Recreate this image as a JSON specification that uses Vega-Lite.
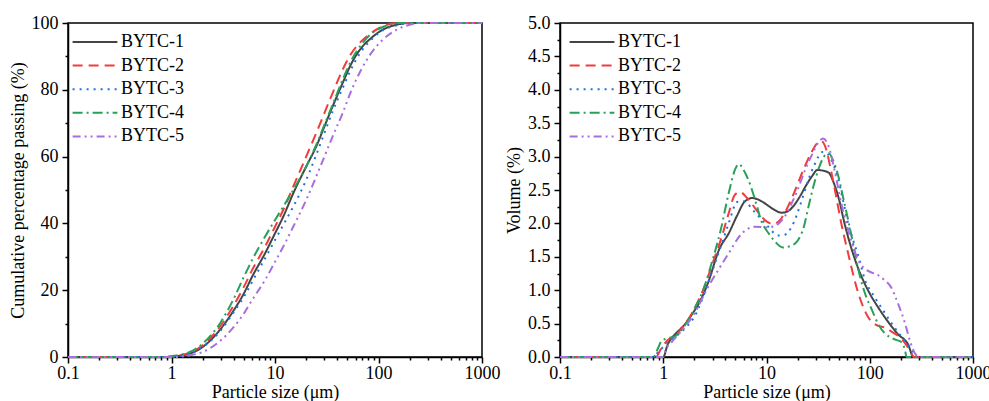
{
 "$schema": "https://vega.github.io/schema/vega-lite/v6.json",
 "padding": {"left": 8, "top": 13, "right": 18, "bottom": 5},
 "config": {
   "font": "Liberation Serif",
   "view": {"stroke": "black", "strokeWidth": 1.5},
   "axis": {"labelFont": "Liberation Serif", "titleFont": "Liberation Serif", "labelFontSize": 18, "titleFontSize": 18, "titleFontWeight": "normal", "labelColor": "black", "titleColor": "black", "domainColor": "black", "domainWidth": 1.5, "tickColor": "black", "tickWidth": 1.5, "grid": false, "labelOverlap": false, "labelFlush": false},
   "legend": {"orient": "none", "labelFont": "Liberation Serif", "labelFontSize": 18, "labelColor": "black", "symbolType": "M-2.8,0H2.8", "symbolSize": 256, "symbolStrokeWidth": 2, "rowPadding": 5.6, "labelOffset": 17, "padding": 0}
 },
 "datasets": {
  "cum": [
   {"s":"BYTC-1","d":0.1,"v":0},{"s":"BYTC-1","d":0.5,"v":0},{"s":"BYTC-1","d":1.0,"v":0},{"s":"BYTC-1","d":1.1,"v":0.2},{"s":"BYTC-1","d":1.5,"v":1},{"s":"BYTC-1","d":2,"v":3},{"s":"BYTC-1","d":3,"v":8.5},{"s":"BYTC-1","d":4,"v":14},{"s":"BYTC-1","d":5,"v":19},{"s":"BYTC-1","d":6,"v":24},{"s":"BYTC-1","d":8,"v":31},{"s":"BYTC-1","d":10,"v":37},{"s":"BYTC-1","d":12,"v":42},{"s":"BYTC-1","d":15,"v":49},{"s":"BYTC-1","d":20,"v":57},{"s":"BYTC-1","d":25,"v":63},{"s":"BYTC-1","d":30,"v":69},{"s":"BYTC-1","d":36,"v":75},{"s":"BYTC-1","d":45,"v":82},{"s":"BYTC-1","d":55,"v":88},{"s":"BYTC-1","d":68,"v":92.5},{"s":"BYTC-1","d":85,"v":95.5},{"s":"BYTC-1","d":110,"v":98},{"s":"BYTC-1","d":150,"v":99.5},{"s":"BYTC-1","d":200,"v":100},{"s":"BYTC-1","d":1000,"v":100},
   {"s":"BYTC-2","d":0.1,"v":0},{"s":"BYTC-2","d":0.9,"v":0},{"s":"BYTC-2","d":1.0,"v":0.1},{"s":"BYTC-2","d":1.2,"v":0.5},{"s":"BYTC-2","d":1.5,"v":1.3},{"s":"BYTC-2","d":2,"v":3.5},{"s":"BYTC-2","d":3,"v":9.5},{"s":"BYTC-2","d":4,"v":15.5},{"s":"BYTC-2","d":5,"v":21},{"s":"BYTC-2","d":6,"v":26},{"s":"BYTC-2","d":8,"v":33},{"s":"BYTC-2","d":10,"v":39},{"s":"BYTC-2","d":12,"v":44},{"s":"BYTC-2","d":15,"v":51},{"s":"BYTC-2","d":20,"v":60},{"s":"BYTC-2","d":25,"v":67},{"s":"BYTC-2","d":30,"v":73},{"s":"BYTC-2","d":36,"v":79},{"s":"BYTC-2","d":45,"v":86},{"s":"BYTC-2","d":55,"v":91},{"s":"BYTC-2","d":68,"v":94.5},{"s":"BYTC-2","d":85,"v":97},{"s":"BYTC-2","d":110,"v":99},{"s":"BYTC-2","d":150,"v":100},{"s":"BYTC-2","d":1000,"v":100},
   {"s":"BYTC-3","d":0.1,"v":0},{"s":"BYTC-3","d":0.9,"v":0},{"s":"BYTC-3","d":1.0,"v":0.05},{"s":"BYTC-3","d":1.2,"v":0.3},{"s":"BYTC-3","d":1.5,"v":1},{"s":"BYTC-3","d":2,"v":3},{"s":"BYTC-3","d":3,"v":8},{"s":"BYTC-3","d":4,"v":13.5},{"s":"BYTC-3","d":5,"v":18},{"s":"BYTC-3","d":6,"v":22.5},{"s":"BYTC-3","d":8,"v":29.5},{"s":"BYTC-3","d":10,"v":35},{"s":"BYTC-3","d":12,"v":39.5},{"s":"BYTC-3","d":15,"v":45},{"s":"BYTC-3","d":20,"v":53},{"s":"BYTC-3","d":25,"v":60.5},{"s":"BYTC-3","d":30,"v":67},{"s":"BYTC-3","d":36,"v":73.5},{"s":"BYTC-3","d":45,"v":80.5},{"s":"BYTC-3","d":55,"v":86.5},{"s":"BYTC-3","d":68,"v":91.5},{"s":"BYTC-3","d":85,"v":95},{"s":"BYTC-3","d":110,"v":97.8},{"s":"BYTC-3","d":150,"v":99.3},{"s":"BYTC-3","d":200,"v":100},{"s":"BYTC-3","d":1000,"v":100},
   {"s":"BYTC-4","d":0.1,"v":0},{"s":"BYTC-4","d":0.8,"v":0},{"s":"BYTC-4","d":1.0,"v":0.3},{"s":"BYTC-4","d":1.5,"v":1.5},{"s":"BYTC-4","d":2,"v":4},{"s":"BYTC-4","d":3,"v":10.5},{"s":"BYTC-4","d":4,"v":17.5},{"s":"BYTC-4","d":5,"v":24},{"s":"BYTC-4","d":6,"v":29},{"s":"BYTC-4","d":8,"v":36},{"s":"BYTC-4","d":10,"v":41},{"s":"BYTC-4","d":12,"v":45},{"s":"BYTC-4","d":15,"v":50},{"s":"BYTC-4","d":20,"v":57},{"s":"BYTC-4","d":25,"v":63.5},{"s":"BYTC-4","d":30,"v":69.5},{"s":"BYTC-4","d":36,"v":75.5},{"s":"BYTC-4","d":45,"v":83},{"s":"BYTC-4","d":55,"v":89},{"s":"BYTC-4","d":68,"v":93.5},{"s":"BYTC-4","d":85,"v":96.8},{"s":"BYTC-4","d":110,"v":98.8},{"s":"BYTC-4","d":150,"v":100},{"s":"BYTC-4","d":1000,"v":100},
   {"s":"BYTC-5","d":0.1,"v":0},{"s":"BYTC-5","d":1.1,"v":0},{"s":"BYTC-5","d":1.3,"v":0.2},{"s":"BYTC-5","d":1.5,"v":0.5},{"s":"BYTC-5","d":2,"v":1.5},{"s":"BYTC-5","d":3,"v":5},{"s":"BYTC-5","d":4,"v":9},{"s":"BYTC-5","d":5,"v":13},{"s":"BYTC-5","d":6,"v":17},{"s":"BYTC-5","d":8,"v":23},{"s":"BYTC-5","d":10,"v":28.5},{"s":"BYTC-5","d":12,"v":33},{"s":"BYTC-5","d":15,"v":39},{"s":"BYTC-5","d":20,"v":47},{"s":"BYTC-5","d":25,"v":54},{"s":"BYTC-5","d":30,"v":60},{"s":"BYTC-5","d":36,"v":66},{"s":"BYTC-5","d":45,"v":73},{"s":"BYTC-5","d":55,"v":80},{"s":"BYTC-5","d":68,"v":86},{"s":"BYTC-5","d":85,"v":91},{"s":"BYTC-5","d":110,"v":95},{"s":"BYTC-5","d":150,"v":98},{"s":"BYTC-5","d":200,"v":99.5},{"s":"BYTC-5","d":250,"v":100},{"s":"BYTC-5","d":1000,"v":100}
  ],
  "vol": [
   {"s":"BYTC-1","d":0.1,"v":0},{"s":"BYTC-1","d":1.0,"v":0},{"s":"BYTC-1","d":1.1,"v":0.18},{"s":"BYTC-1","d":1.2,"v":0.28},{"s":"BYTC-1","d":1.3,"v":0.34},{"s":"BYTC-1","d":1.6,"v":0.48},{"s":"BYTC-1","d":1.9,"v":0.64},{"s":"BYTC-1","d":2.3,"v":0.85},{"s":"BYTC-1","d":2.7,"v":1.1},{"s":"BYTC-1","d":3.5,"v":1.62},{"s":"BYTC-1","d":4.3,"v":1.85},{"s":"BYTC-1","d":5.2,"v":2.12},{"s":"BYTC-1","d":6.1,"v":2.32},{"s":"BYTC-1","d":7.3,"v":2.38},{"s":"BYTC-1","d":9,"v":2.33},{"s":"BYTC-1","d":10.5,"v":2.26},{"s":"BYTC-1","d":12,"v":2.2},{"s":"BYTC-1","d":14,"v":2.16},{"s":"BYTC-1","d":16,"v":2.18},{"s":"BYTC-1","d":18,"v":2.25},{"s":"BYTC-1","d":21,"v":2.4},{"s":"BYTC-1","d":24,"v":2.56},{"s":"BYTC-1","d":28,"v":2.72},{"s":"BYTC-1","d":31,"v":2.8},{"s":"BYTC-1","d":35,"v":2.79},{"s":"BYTC-1","d":40,"v":2.76},{"s":"BYTC-1","d":45,"v":2.6},{"s":"BYTC-1","d":50,"v":2.38},{"s":"BYTC-1","d":57,"v":2.0},{"s":"BYTC-1","d":66,"v":1.64},{"s":"BYTC-1","d":75,"v":1.38},{"s":"BYTC-1","d":84,"v":1.19},{"s":"BYTC-1","d":100,"v":0.95},{"s":"BYTC-1","d":121,"v":0.74},{"s":"BYTC-1","d":150,"v":0.53},{"s":"BYTC-1","d":188,"v":0.34},{"s":"BYTC-1","d":235,"v":0.19},{"s":"BYTC-1","d":265,"v":0},{"s":"BYTC-1","d":1000,"v":0},
   {"s":"BYTC-2","d":0.1,"v":0},{"s":"BYTC-2","d":0.85,"v":0},{"s":"BYTC-2","d":0.95,"v":0.12},{"s":"BYTC-2","d":1.1,"v":0.25},{"s":"BYTC-2","d":1.3,"v":0.32},{"s":"BYTC-2","d":1.6,"v":0.48},{"s":"BYTC-2","d":2.0,"v":0.72},{"s":"BYTC-2","d":2.5,"v":1.05},{"s":"BYTC-2","d":3,"v":1.4},{"s":"BYTC-2","d":3.6,"v":1.75},{"s":"BYTC-2","d":4.3,"v":2.15},{"s":"BYTC-2","d":4.9,"v":2.42},{"s":"BYTC-2","d":5.5,"v":2.47},{"s":"BYTC-2","d":6.5,"v":2.38},{"s":"BYTC-2","d":8,"v":2.2},{"s":"BYTC-2","d":10,"v":2.03},{"s":"BYTC-2","d":11.6,"v":1.99},{"s":"BYTC-2","d":13.5,"v":2.05},{"s":"BYTC-2","d":16,"v":2.24},{"s":"BYTC-2","d":19,"v":2.5},{"s":"BYTC-2","d":22.6,"v":2.79},{"s":"BYTC-2","d":27,"v":3.05},{"s":"BYTC-2","d":31,"v":3.2},{"s":"BYTC-2","d":34,"v":3.23},{"s":"BYTC-2","d":38,"v":3.1},{"s":"BYTC-2","d":42,"v":2.8},{"s":"BYTC-2","d":46,"v":2.5},{"s":"BYTC-2","d":53,"v":2.0},{"s":"BYTC-2","d":62,"v":1.54},{"s":"BYTC-2","d":70,"v":1.2},{"s":"BYTC-2","d":78,"v":0.94},{"s":"BYTC-2","d":88,"v":0.72},{"s":"BYTC-2","d":97,"v":0.59},{"s":"BYTC-2","d":115,"v":0.48},{"s":"BYTC-2","d":139,"v":0.44},{"s":"BYTC-2","d":170,"v":0.36},{"s":"BYTC-2","d":204,"v":0.27},{"s":"BYTC-2","d":240,"v":0.12},{"s":"BYTC-2","d":270,"v":0},{"s":"BYTC-2","d":1000,"v":0},
   {"s":"BYTC-3","d":0.1,"v":0},{"s":"BYTC-3","d":0.8,"v":0},{"s":"BYTC-3","d":0.9,"v":0.08},{"s":"BYTC-3","d":1.0,"v":0.15},{"s":"BYTC-3","d":1.2,"v":0.26},{"s":"BYTC-3","d":1.4,"v":0.34},{"s":"BYTC-3","d":1.7,"v":0.46},{"s":"BYTC-3","d":2.0,"v":0.6},{"s":"BYTC-3","d":2.5,"v":0.95},{"s":"BYTC-3","d":3,"v":1.3},{"s":"BYTC-3","d":3.6,"v":1.65},{"s":"BYTC-3","d":4.3,"v":2.0},{"s":"BYTC-3","d":5.2,"v":2.32},{"s":"BYTC-3","d":6,"v":2.33},{"s":"BYTC-3","d":7.7,"v":2.17},{"s":"BYTC-3","d":10,"v":1.98},{"s":"BYTC-3","d":13,"v":1.82},{"s":"BYTC-3","d":15,"v":1.83},{"s":"BYTC-3","d":17.4,"v":1.94},{"s":"BYTC-3","d":21.9,"v":2.34},{"s":"BYTC-3","d":25,"v":2.62},{"s":"BYTC-3","d":29,"v":2.87},{"s":"BYTC-3","d":35,"v":3.07},{"s":"BYTC-3","d":39,"v":3.04},{"s":"BYTC-3","d":44,"v":2.9},{"s":"BYTC-3","d":49,"v":2.69},{"s":"BYTC-3","d":55,"v":2.35},{"s":"BYTC-3","d":62,"v":1.99},{"s":"BYTC-3","d":70,"v":1.72},{"s":"BYTC-3","d":78,"v":1.5},{"s":"BYTC-3","d":90,"v":1.15},{"s":"BYTC-3","d":106,"v":0.95},{"s":"BYTC-3","d":132,"v":0.72},{"s":"BYTC-3","d":160,"v":0.52},{"s":"BYTC-3","d":190,"v":0.36},{"s":"BYTC-3","d":225,"v":0.22},{"s":"BYTC-3","d":260,"v":0.08},{"s":"BYTC-3","d":285,"v":0},{"s":"BYTC-3","d":1000,"v":0},
   {"s":"BYTC-4","d":0.1,"v":0},{"s":"BYTC-4","d":0.8,"v":0},{"s":"BYTC-4","d":0.9,"v":0.15},{"s":"BYTC-4","d":0.96,"v":0.24},{"s":"BYTC-4","d":1.1,"v":0.28},{"s":"BYTC-4","d":1.3,"v":0.31},{"s":"BYTC-4","d":1.6,"v":0.46},{"s":"BYTC-4","d":2,"v":0.72},{"s":"BYTC-4","d":2.5,"v":1.05},{"s":"BYTC-4","d":3,"v":1.45},{"s":"BYTC-4","d":3.6,"v":1.9},{"s":"BYTC-4","d":4.3,"v":2.45},{"s":"BYTC-4","d":5,"v":2.82},{"s":"BYTC-4","d":5.4,"v":2.89},{"s":"BYTC-4","d":6,"v":2.8},{"s":"BYTC-4","d":7.1,"v":2.54},{"s":"BYTC-4","d":8,"v":2.28},{"s":"BYTC-4","d":8.9,"v":2.04},{"s":"BYTC-4","d":10.5,"v":1.85},{"s":"BYTC-4","d":11.9,"v":1.74},{"s":"BYTC-4","d":14.4,"v":1.64},{"s":"BYTC-4","d":17,"v":1.66},{"s":"BYTC-4","d":20,"v":1.74},{"s":"BYTC-4","d":23,"v":1.95},{"s":"BYTC-4","d":25.4,"v":2.24},{"s":"BYTC-4","d":29,"v":2.6},{"s":"BYTC-4","d":32,"v":2.82},{"s":"BYTC-4","d":36,"v":3.0},{"s":"BYTC-4","d":40,"v":3.05},{"s":"BYTC-4","d":44,"v":2.95},{"s":"BYTC-4","d":49,"v":2.74},{"s":"BYTC-4","d":55,"v":2.4},{"s":"BYTC-4","d":62,"v":2.04},{"s":"BYTC-4","d":70,"v":1.65},{"s":"BYTC-4","d":78,"v":1.29},{"s":"BYTC-4","d":90,"v":0.95},{"s":"BYTC-4","d":106,"v":0.69},{"s":"BYTC-4","d":120,"v":0.5},{"s":"BYTC-4","d":139,"v":0.36},{"s":"BYTC-4","d":170,"v":0.27},{"s":"BYTC-4","d":204,"v":0.22},{"s":"BYTC-4","d":218,"v":0.12},{"s":"BYTC-4","d":228,"v":0},{"s":"BYTC-4","d":1000,"v":0},
   {"s":"BYTC-5","d":0.1,"v":0},{"s":"BYTC-5","d":1.0,"v":0},{"s":"BYTC-5","d":1.05,"v":0.1},{"s":"BYTC-5","d":1.2,"v":0.22},{"s":"BYTC-5","d":1.6,"v":0.44},{"s":"BYTC-5","d":2,"v":0.65},{"s":"BYTC-5","d":2.7,"v":1.04},{"s":"BYTC-5","d":3.4,"v":1.3},{"s":"BYTC-5","d":4.25,"v":1.54},{"s":"BYTC-5","d":5.7,"v":1.84},{"s":"BYTC-5","d":7.7,"v":1.95},{"s":"BYTC-5","d":10.3,"v":1.94},{"s":"BYTC-5","d":12.9,"v":1.99},{"s":"BYTC-5","d":15,"v":2.1},{"s":"BYTC-5","d":17.4,"v":2.29},{"s":"BYTC-5","d":20,"v":2.5},{"s":"BYTC-5","d":23.5,"v":2.79},{"s":"BYTC-5","d":28,"v":3.05},{"s":"BYTC-5","d":32,"v":3.22},{"s":"BYTC-5","d":35.5,"v":3.27},{"s":"BYTC-5","d":40,"v":3.15},{"s":"BYTC-5","d":45.7,"v":2.79},{"s":"BYTC-5","d":53,"v":2.3},{"s":"BYTC-5","d":62,"v":1.89},{"s":"BYTC-5","d":70,"v":1.62},{"s":"BYTC-5","d":78,"v":1.44},{"s":"BYTC-5","d":90,"v":1.32},{"s":"BYTC-5","d":106,"v":1.26},{"s":"BYTC-5","d":122,"v":1.22},{"s":"BYTC-5","d":139,"v":1.15},{"s":"BYTC-5","d":160,"v":1.05},{"s":"BYTC-5","d":188,"v":0.8},{"s":"BYTC-5","d":220,"v":0.5},{"s":"BYTC-5","d":250,"v":0.2},{"s":"BYTC-5","d":275,"v":0.05},{"s":"BYTC-5","d":300,"v":0},{"s":"BYTC-5","d":1000,"v":0}
  ]
 },
 "spacing": 78,
 "bounds": "flush",
 "resolve": {"scale": {"color": "independent", "strokeDash": "independent"}, "legend": {"color": "independent", "strokeDash": "independent"}},
 "hconcat": [
  {
   "width": 414, "height": 334,
   "data": {"name": "cum"},
   "mark": {"type": "line", "strokeWidth": 2, "interpolate": "monotone"},
   "encoding": {
    "x": {"field": "d", "type": "quantitative", "scale": {"type": "log", "domain": [0.1, 1000], "nice": false},
      "axis": {"title": "Particle size (μm)", "labelFont": "Liberation Serif", "titleFont": "Liberation Serif", "values": [0.1,0.2,0.3,0.4,0.5,0.6,0.7,0.8,0.9,1,2,3,4,5,6,7,8,9,10,20,30,40,50,60,70,80,90,100,200,300,400,500,600,700,800,900,1000],
        "labelExpr": "abs(log(datum.value)/LN10 - round(log(datum.value)/LN10)) < 0.001 ? '' + datum.value : ''",
        "tickSize": {"condition": {"test": "abs(log(datum.value)/LN10 - round(log(datum.value)/LN10)) < 0.001", "value": 6}, "value": 3},
        "labelPadding": 1, "titlePadding": 1}},
    "y": {"field": "v", "type": "quantitative", "scale": {"domain": [0, 100], "nice": false, "zero": false},
      "axis": {"title": "Cumulative percentage passing (%)", "labelFont": "Liberation Serif", "titleFont": "Liberation Serif", "values": [0,10,20,30,40,50,60,70,80,90,100],
        "labelExpr": "datum.value % 20 === 0 ? '' + datum.value : ''",
        "tickSize": {"condition": {"test": "datum.value % 20 === 0", "value": 6}, "value": 3},
        "labelPadding": 4, "titlePadding": 4}},
    "color": {"field": "s", "type": "nominal", "scale": {"domain": ["BYTC-1","BYTC-2","BYTC-3","BYTC-4","BYTC-5"], "range": ["#444444","#f03c3c","#2070e0","#27a05a","#a86ee0"]}, "legend": {"title": null, "legendX": 18, "legendY": 10}},
    "strokeDash": {"field": "s", "type": "nominal", "scale": {"domain": ["BYTC-1","BYTC-2","BYTC-3","BYTC-4","BYTC-5"], "range": [[1,0],[10,6],[2,5],[10,4,2,4],[8,4,2,4,2,4]]}, "legend": {"title": null, "legendX": 18, "legendY": 10}}
   }
  },
  {
   "width": 413, "height": 334,
   "data": {"name": "vol"},
   "mark": {"type": "line", "strokeWidth": 2, "interpolate": "monotone"},
   "encoding": {
    "x": {"field": "d", "type": "quantitative", "scale": {"type": "log", "domain": [0.1, 1000], "nice": false},
      "axis": {"title": "Particle size (μm)", "labelFont": "Liberation Serif", "titleFont": "Liberation Serif", "values": [0.1,0.2,0.3,0.4,0.5,0.6,0.7,0.8,0.9,1,2,3,4,5,6,7,8,9,10,20,30,40,50,60,70,80,90,100,200,300,400,500,600,700,800,900,1000],
        "labelExpr": "abs(log(datum.value)/LN10 - round(log(datum.value)/LN10)) < 0.001 ? '' + datum.value : ''",
        "tickSize": {"condition": {"test": "abs(log(datum.value)/LN10 - round(log(datum.value)/LN10)) < 0.001", "value": 6}, "value": 3},
        "labelPadding": 1, "titlePadding": 1}},
    "y": {"field": "v", "type": "quantitative", "scale": {"domain": [0, 5], "nice": false, "zero": false},
      "axis": {"title": "Volume (%)", "labelFont": "Liberation Serif", "titleFont": "Liberation Serif", "values": [0,0.25,0.5,0.75,1,1.25,1.5,1.75,2,2.25,2.5,2.75,3,3.25,3.5,3.75,4,4.25,4.5,4.75,5],
        "labelExpr": "abs(datum.value*2 - round(datum.value*2)) < 0.001 ? format(datum.value, '.1f') : ''",
        "tickSize": {"condition": {"test": "abs(datum.value*2 - round(datum.value*2)) < 0.001", "value": 6}, "value": 3},
        "labelPadding": 4, "titlePadding": 4}},
    "color": {"field": "s", "type": "nominal", "scale": {"domain": ["BYTC-1","BYTC-2","BYTC-3","BYTC-4","BYTC-5"], "range": ["#444444","#f03c3c","#2070e0","#27a05a","#a86ee0"]}, "legend": {"title": null, "legendX": 23, "legendY": 10}},
    "strokeDash": {"field": "s", "type": "nominal", "scale": {"domain": ["BYTC-1","BYTC-2","BYTC-3","BYTC-4","BYTC-5"], "range": [[1,0],[10,6],[2,5],[10,4,2,4],[8,4,2,4,2,4]]}, "legend": {"title": null, "legendX": 23, "legendY": 10}}
   }
  }
 ]
}
